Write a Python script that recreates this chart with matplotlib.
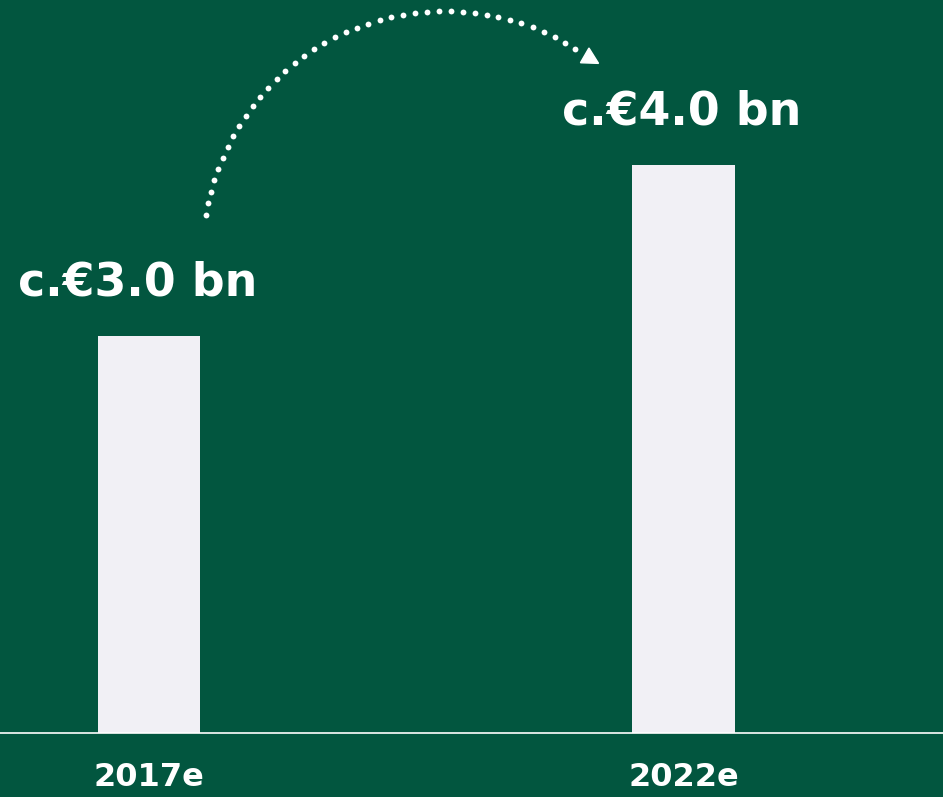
import numpy as np
import matplotlib
matplotlib.use("Agg")
import matplotlib.pyplot as plt
from matplotlib.patches import Polygon

# Market size estimates
years = ["2017e", "2022e"]
values = [3.0, 4.0]
labels = ["c.€3.0 bn", "c.€4.0 bn"]

bg = "#02563f"
bar_col = "#f1f0f5"

W, H = 943, 797
fig = plt.figure(figsize=(W / 100, H / 100), dpi=100, facecolor=bg)
ax = fig.add_axes([0, 64 / H, 1, 1 - 64 / H], facecolor=bg)

x = np.arange(len(years))
ax.bar(x, values, width=0.191, color=bar_col, zorder=2)

# truncated value axis so the bars sit on the baseline
ax.set_xlim(-0.2788, 1.4855)
ax.set_ylim(0.678, 4.965)

for sp in ["top", "left", "right"]:
    ax.spines[sp].set_visible(False)
ax.spines["bottom"].set_color("white")
ax.spines["bottom"].set_linewidth(1.2)
ax.set_yticks([])
ax.set_xticks(x)
ax.set_xticklabels(years, fontsize=23, fontweight="bold", color="white")
ax.tick_params(axis="x", length=0, pad=21)

# value labels above the bars
x_shift = [-8, -1]
for xi, v, lab, dx in zip(x, values, labels, x_shift):
    ax.annotate(lab, (xi, v), xytext=(dx, 29), textcoords="offset points",
                ha="center", va="baseline", fontsize=33, fontweight="bold",
                color="white")

# dotted growth arrow (circle arc, figure pixel space)
cx, cy, r = 445, 253, 242
th = np.radians(np.linspace(171, 57.4, 41))
px = cx + r * np.cos(th)
py = cy - r * np.sin(th)
ax.plot(px / W, 1 - py / H, "o", ms=4.2, color="white", mec="none",
        transform=fig.transFigure, clip_on=False, zorder=3)

# arrow head
te = np.radians(51.0)
tb = np.radians(54.8)
tip = np.array([cx + 244 * np.cos(te), cy - 244 * np.sin(te)])
base = np.array([cx + r * np.cos(tb), cy - r * np.sin(tb)])
d = tip - base
d = d / np.hypot(*d)
n = np.array([-d[1], d[0]])
base = tip - d * 16
tri = np.array([tip, base + n * 8.5, base - n * 8.5])
tri = np.column_stack([tri[:, 0] / W, 1 - tri[:, 1] / H])
fig.add_artist(Polygon(tri, closed=True, color="white", transform=fig.transFigure))

fig.savefig("out.png", dpi=100, facecolor=bg)
